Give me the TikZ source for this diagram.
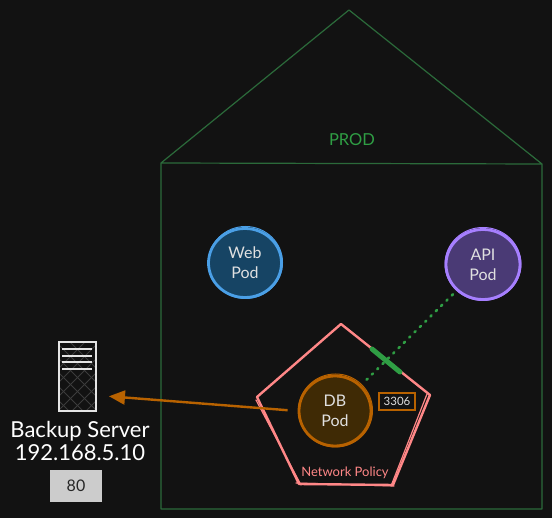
\documentclass[tikz,border=0pt]{standalone}
\usepackage{fontspec}
\setmainfont{Lato}
\usetikzlibrary{shapes.geometric,arrows.meta,calc}
\definecolor{bgc}{HTML}{121212}
\definecolor{houseline}{HTML}{2B6A3A}
\definecolor{prodtext}{HTML}{2F9E44}
\definecolor{pink}{HTML}{FF8787}
\definecolor{weblineC}{HTML}{4A9FE6}
\definecolor{webfillC}{HTML}{164464}
\definecolor{apilineC}{HTML}{A67FFF}
\definecolor{apifillC}{HTML}{4A3A75}
\definecolor{dblineC}{HTML}{B86200}
\definecolor{dbfillC}{HTML}{3F2A05}
\definecolor{podtext}{HTML}{E0E0E0}
\definecolor{hatchC}{HTML}{3C3C3C}
\tikzset{
  podnode/.style={ellipse,inner sep=0pt,line width=2.8pt,align=center,text=podtext,font=\fontsize{16}{20}\selectfont},
  houseedge/.style={draw=houseline,line width=1.2pt},
  pentaedge/.style={draw=pink,line width=2.4pt,line cap=round,line join=round},
  pentathin/.style={draw=pink,line width=1.2pt,line cap=round},
}
\begin{document}
\begin{tikzpicture}[x=1pt,y=-1pt]
\useasboundingbox[fill=bgc] (0,0) rectangle (552,518);
% house
\coordinate (apex) at (349,10);
\coordinate (hl) at (161,163);
\coordinate (hr) at (542,164);
\coordinate (hbl) at (161,509);
\coordinate (hbr) at (542,509);
\draw[houseedge,line join=round] (hl) -- (apex) -- (hr) -- (hl) -- (hbl) -- (hbr) -- (hr);
\node[text=prodtext,font=\fontsize{16.5}{18}\selectfont] (prod) at (352,140) {PROD};
% pentagon
\coordinate (p1) at (341,324);
\coordinate (p2) at (430,395);
\coordinate (p3) at (393,485);
\coordinate (p4) at (299,484);
\coordinate (p5) at (257,397);
\draw[pentaedge] (p1) -- (p2) -- (p3) -- (p4) -- (p5) -- cycle;
\draw[pentathin] (p5) ++(-1,3) -- ($(p4)+(2,1)$);
\draw[pentathin] (427,394) -- (391,486);
\draw[pentathin] (296,483) -- (394,486);
% pods
\node[podnode,draw=weblineC,fill=webfillC,minimum width=73pt,minimum height=69pt] (web) at (245,263) {Web\\Pod};
\draw[weblineC,line width=1pt] (245.5,262.5) ellipse (37pt and 36pt);
\node[podnode,draw=apilineC,fill=apifillC,minimum width=74pt,minimum height=70pt] (api) at (483,264.5) {API\\Pod};
\draw[apilineC,line width=1pt] (483,264) ellipse (38pt and 36.5pt);
\node[podnode,draw=dblineC,fill=dbfillC,minimum width=72pt,minimum height=70pt] (db) at (335,411) {DB\\Pod};
\draw[dblineC,line width=1pt] (335.5,410.5) ellipse (37pt and 36.5pt);
% port
\node[draw=dblineC,line width=2.4pt,fill=bgc,minimum width=36pt,minimum height=17pt,inner sep=0pt,text=podtext,font=\fontsize{11.5}{12}\selectfont] (port) at (397,401.5) {3306};
% policy label
\node[text=pink,font=\fontsize{13}{15}\selectfont] (policy) at (345,473) {Network Policy};
% allowed connection
\draw[prodtext,line width=2.6pt,line cap=round,dash pattern=on 1.5pt off 6pt,shorten >=3pt,shorten <=5pt] (api) -- (db);
\coordinate (gapA) at (372,349);
\coordinate (gapB) at (400,372);
\draw[prodtext,line width=5pt,line cap=round] (gapA) -- (gapB);
% server
\begin{scope}
\clip (59,342) rectangle (96,411);
\foreach \k in {0,14,...,140}{
  \draw[hatchC,line width=1pt] (59,{331+\k}) -- ++(48,48);
  \draw[hatchC,line width=1pt] (96,{331+\k}) -- ++(-48,48);
}
\end{scope}
\node[draw=white!90!black,line width=2pt,minimum width=37pt,minimum height=69pt,inner sep=0pt] (server) at (77.5,376.5) {};
\foreach \yy in {349,356,362,369}{
  \draw[white!90!black,line width=1.8pt] (62,\yy) -- (92,\yy);
}
\node[text=white,align=center,font=\fontsize{22}{23}\selectfont] (srvlabel) at (80,441) {Backup Server\\192.168.5.10};
\node[fill=white!80!black,minimum width=52pt,minimum height=32pt,inner sep=0pt,text=black!85,font=\fontsize{16}{18}\selectfont] (portb) at (76,486) {80};
% egress arrow
\draw[dblineC,line width=2.4pt,-{Triangle[length=16pt,width=14pt]},shorten <=10pt,shorten >=12pt] (db.west) -- (server.-44);
\end{tikzpicture}
\end{document}
